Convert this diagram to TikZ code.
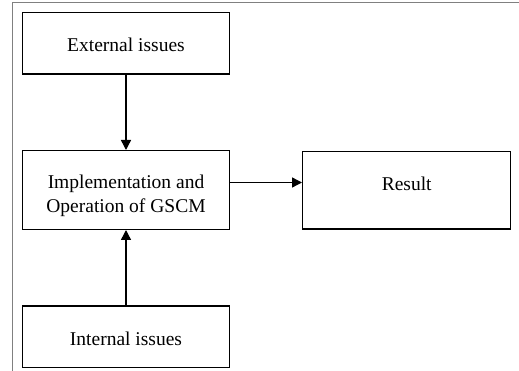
\documentclass[tikz,border=0pt]{standalone}
\usepackage{fontspec}
\setmainfont{Liberation Serif}
\usetikzlibrary{arrows.meta}
\definecolor{framegray}{RGB}{128,128,128}
\begin{document}
\begin{tikzpicture}[x=1pt,y=-1pt,
  box/.style={draw=black,line width=1.4pt,minimum width=206.6pt,inner sep=0pt},
  txt/.style={font=\fontsize{19.5}{23.5}\selectfont,anchor=base,align=center,inner sep=0pt},
  conn/.style={draw=black,line width=1.4pt,-{Triangle[length=10pt,width=10pt]}}]
\useasboundingbox (0,0) rectangle (519,371);
% outer frame (top and left only)
\coordinate (fa) at (12.7,371);
\coordinate (fb) at (12.7,2.7);
\coordinate (fc) at (519,2.7);
\draw[framegray,line width=1.2pt] (fa) -- (fb) -- (fc);
% boxes
\node[box,minimum height=61.3pt] (ext) at (126,43.35) {};
\node[box,minimum height=78.6pt] (mid) at (126,190) {};
\node[box,minimum height=61.3pt] (int) at (126,336.65) {};
\node[box,minimum width=208pt,minimum height=77.3pt] (res) at (406.7,190.35) {};
% texts
\node[txt] (extt) at (126,51.7) {External issues};
\node[txt] (midt) at (126,212.5) {Implementation and\\Operation of GSCM};
\node[txt] (intt) at (126,345) {Internal issues};
\node[txt] (rest) at (406.7,190.7) {Result};
% connectors
\draw[conn] (ext.south) -- (mid.north);
\draw[conn] (int.north) -- (mid.south);
\draw[conn] ([yshift=7.5pt]mid.east) -- ([yshift=7.5pt]mid.east -| res.west);
\end{tikzpicture}
\end{document}
